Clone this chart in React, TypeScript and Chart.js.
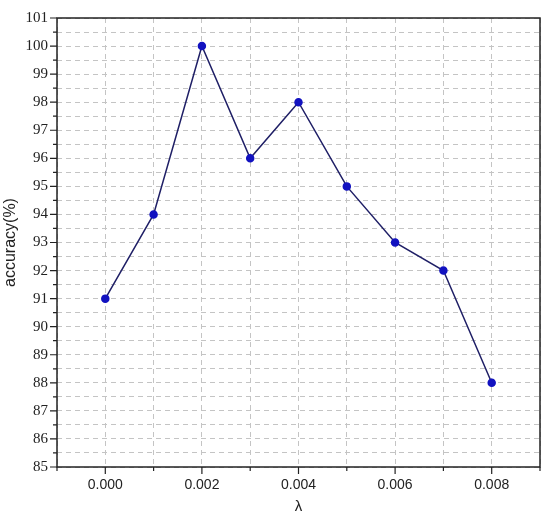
import React, { useEffect, useRef } from "react";
import { Chart, registerables } from "chart.js";

Chart.register(...registerables);

const lambdas = [0.0, 0.001, 0.002, 0.003, 0.004, 0.005, 0.006, 0.007, 0.008];
const accuracy = [91, 94, 100, 96, 98, 95, 93, 92, 88];
const xTickLabels = ["0.000", "0.002", "0.004", "0.006", "0.008"];
const xTitle = "λ";
const yTitle = "accuracy(%)";

const framePlugin = {
  id: "frameTicks",
  afterDraw(chart: any) {
    const { ctx, chartArea } = chart;
    const xs = chart.scales.x;
    const ys = chart.scales.y;
    ctx.save();
    ctx.strokeStyle = "#222";
    ctx.lineWidth = 1.5;
    ctx.strokeRect(chartArea.left, chartArea.top, chartArea.right - chartArea.left, chartArea.bottom - chartArea.top);
    ctx.lineWidth = 1.2;
    ctx.beginPath();
    ys.ticks.forEach((t: any) => {
      const y = ys.getPixelForValue(t.value);
      const major = Math.abs(t.value - Math.round(t.value)) < 1e-6;
      const len = major ? 7 : 4;
      ctx.moveTo(chartArea.left - len, y);
      ctx.lineTo(chartArea.left, y);
    });
    xs.ticks.forEach((t: any) => {
      const x = xs.getPixelForValue(t.value);
      const k = Math.round(t.value * 1000);
      const major = k % 2 === 0;
      const len = major ? 7 : 4;
      ctx.moveTo(x, chartArea.bottom);
      ctx.lineTo(x, chartArea.bottom + len);
    });
    ctx.stroke();
    ctx.restore();
  },
};

export default function App() {
  const ref = useRef<HTMLCanvasElement>(null);
  useEffect(() => {
    if (!ref.current) return;
    const chart = new Chart(ref.current, {
      type: "line",
      data: {
        datasets: [
          {
            data: lambdas.map((x, i) => ({ x, y: accuracy[i] })),
            borderColor: "#1f1f66",
            borderWidth: 1.5,
            pointBackgroundColor: "#1212c0",
            pointBorderColor: "#1212c0",
            pointRadius: 3.5,
            tension: 0,
          },
        ],
      },
      options: {
        responsive: false,
        animation: false,
        layout: { padding: { left: 0, top: 12, right: 7, bottom: 0 } },
        plugins: { legend: { display: false }, tooltip: { enabled: false } },
        scales: {
          x: {
            type: "linear",
            min: -0.001,
            max: 0.009,
            afterBuildTicks: (scale: any) => {
              const t = [];
              for (let k = -1; k <= 9; k++) t.push({ value: k / 1000 });
              scale.ticks = t;
            },
            afterFit: (scale: any) => {
              scale.height = 54;
            },
            ticks: {
              autoSkip: false,
              maxRotation: 0,
              padding: 10,
              color: "#222",
              font: { family: '"Liberation Sans", Arial, sans-serif', size: 14 },
              callback: (v: any) => {
                const k = Math.round(Number(v) * 1000);
                if (k >= 0 && k % 2 === 0) return xTickLabels[k / 2] ?? "";
                return "";
              },
            },
            grid: { color: "#c4c4c4", lineWidth: 1, drawTicks: false },
            border: { display: false, dash: [5, 4] },
            title: {
              display: true,
              text: xTitle,
              color: "#222",
              font: { family: '"Liberation Sans", Arial, sans-serif', size: 15 },
              padding: { top: 0, bottom: 5 },
            },
          },
          y: {
            min: 85,
            max: 101,
            afterBuildTicks: (scale: any) => {
              const t = [];
              for (let k = 170; k <= 202; k++) t.push({ value: k / 2 });
              scale.ticks = t;
            },
            afterFit: (scale: any) => {
              scale.width = 57;
            },
            ticks: {
              autoSkip: false,
              padding: 9,
              color: "#222",
              font: { family: '"Liberation Serif", "Times New Roman", Times, serif', size: 15 },
              callback: (v: any) => {
                const n = Number(v);
                return Math.abs(n - Math.round(n)) < 1e-6 ? String(Math.round(n)) : "";
              },
            },
            grid: { color: "#c4c4c4", lineWidth: 1, drawTicks: false },
            border: { display: false, dash: [5, 4] },
            title: {
              display: true,
              text: yTitle,
              color: "#222",
              font: { family: '"Liberation Sans", Arial, sans-serif', size: 16 },
              padding: { top: 1, bottom: 1 },
            },
          },
        },
      },
      plugins: [framePlugin],
    });
    return () => chart.destroy();
  }, []);
  return (
    <div style={{ position: "fixed", left: 0, top: 0, width: 550, height: 521, background: "#fff" }}>
      <canvas ref={ref} width={550} height={521} />
    </div>
  );
}
